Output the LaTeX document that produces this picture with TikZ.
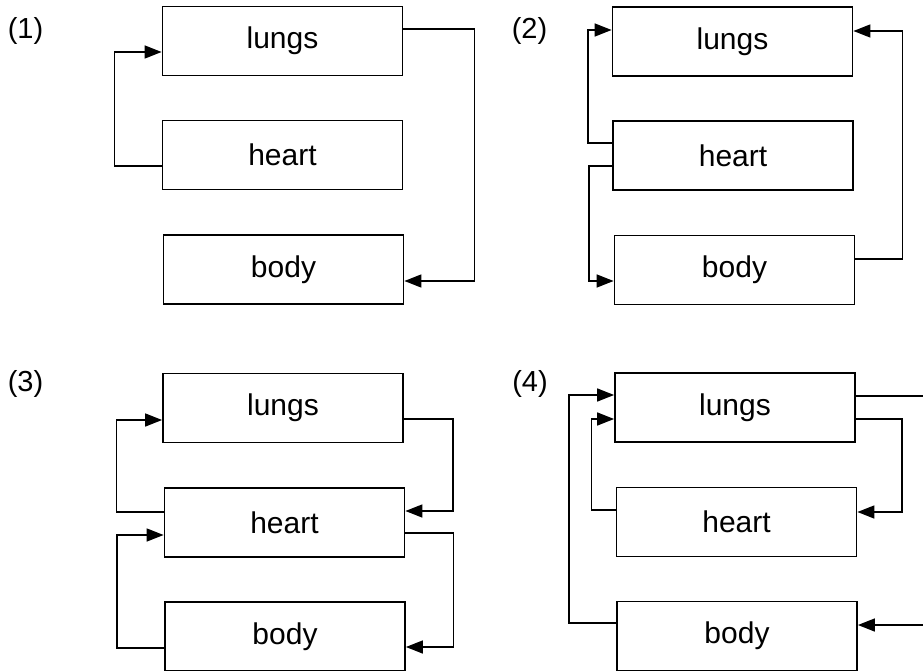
\documentclass[tikz,border=0pt]{standalone}
\usepackage{fontspec}
\setmainfont{Liberation Sans}
\usetikzlibrary{arrows.meta}
\begin{document}
\begin{tikzpicture}[x=1pt,y=-1pt,
  organ/.style={draw, line width=1.8pt, minimum width=240pt, minimum height=69pt, inner sep=0pt,
    font=\fontsize{30}{34}\selectfont},
  tag/.style={font=\fontsize{29}{34}\selectfont, inner sep=0pt},
  flow/.style={line width=1.5pt, -{Triangle[length=17pt,width=13pt]}},
  lead/.style={line width=1.5pt}]
\useasboundingbox (0,0) rectangle (923,671);
% panel 1
\node[tag] (t1) at (25.5,31) {(1)};
\node[organ] (l1) at (282.5,41) {lungs};
\node[organ] (h1) at (282.5,155) {heart};
\node[organ] (b1) at (283.5,269.5) {body};
\draw[flow] ([yshift=-11pt]h1.west) -- ++(-47,0) |- ([yshift=-11pt]l1.west);
\draw[flow] ([yshift=12pt]l1.east) -- ++(71,0) |- ([yshift=-11.5pt]b1.east);
% panel 2
\node[tag] (t2) at (529.5,31) {(2)};
\node[organ] (l2) at (732.5,41.5) {lungs};
\node[organ] (h2) at (733,155.5) {heart};
\node[organ] (b2) at (734.5,270) {body};
\draw[flow] ([yshift=12.5pt]h2.west) -- ++(-24,0) |- ([yshift=11.5pt]l2.west);
\draw[flow] ([yshift=-10.5pt]h2.west) -- ++(-23,0) |- ([yshift=-11pt]b2.west);
\draw[flow] ([yshift=11pt]b2.east) -- ++(47,0) |- ([yshift=10.5pt]l2.east);
% panel 3
\node[tag] (t3) at (25.5,384) {(3)};
\node[organ] (l3) at (283,408) {lungs};
\node[organ] (h3) at (284.5,522.5) {heart};
\node[organ] (b3) at (285,636.5) {body};
\draw[flow] ([yshift=10.5pt]h3.west) -- ++(-47,0) |- ([yshift=-12pt]l3.west);
\draw[flow] ([yshift=-11pt]l3.east) -- ++(49,0) |- ([yshift=11.5pt]h3.east);
\draw[flow] ([yshift=-10.5pt]h3.east) -- ++(48,0) |- ([yshift=-10.5pt]b3.east);
\draw[flow] ([yshift=-11.5pt]b3.west) -- ++(-47,0) |- ([yshift=-12.5pt]h3.west);
% panel 4
\node[tag] (t4) at (530,384) {(4)};
\node[organ] (l4) at (735,407.5) {lungs};
\node[organ] (h4) at (736.5,522) {heart};
\node[organ] (b4) at (737,636) {body};
\coordinate (e1) at (923,396);
\coordinate (e2) at (923,625);
\draw[flow] ([yshift=13pt]b4.west) -- ++(-47,0) |- ([yshift=12.5pt]l4.west);
\draw[flow] ([yshift=12pt]h4.west) -- ++(-24,0) |- ([yshift=-11.5pt]l4.west);
\draw[lead] ([yshift=11.5pt]l4.east) -- (e1);
\draw[flow] ([yshift=-11.5pt]l4.east) -- ++(46,0) |- ([yshift=10pt]h4.east);
\draw[flow] (e2) -- ([yshift=11pt]b4.east);
\end{tikzpicture}
\end{document}
